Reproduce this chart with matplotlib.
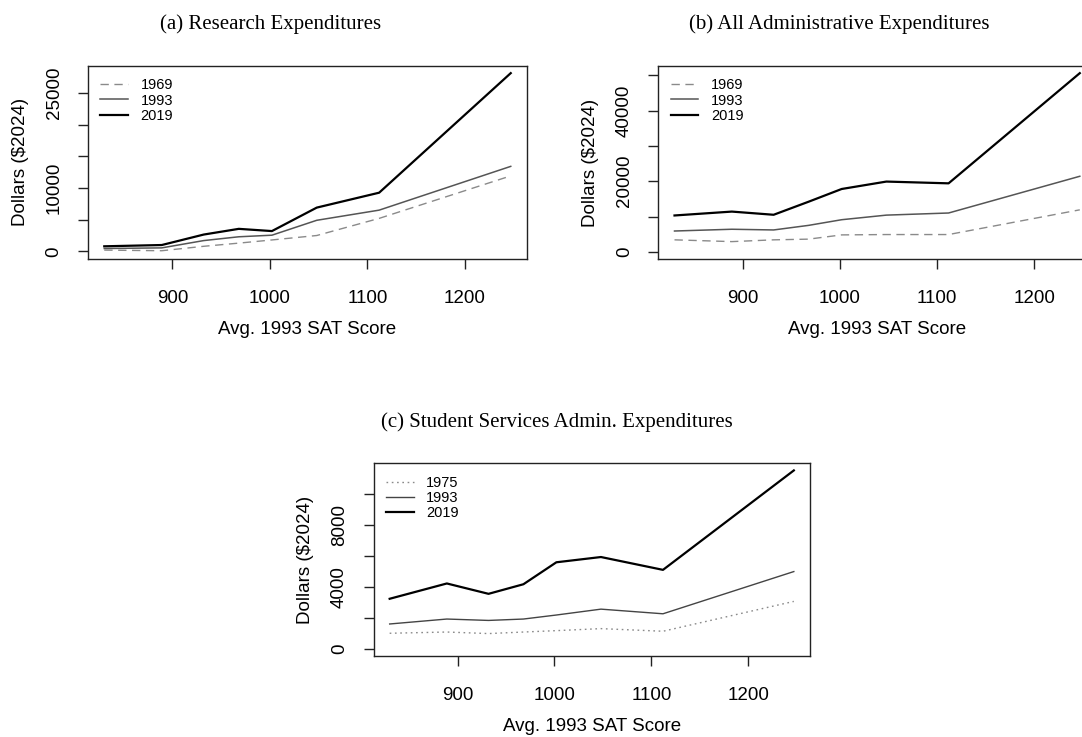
import matplotlib
matplotlib.use('Agg')
import matplotlib.pyplot as plt

# ---------------- data ----------------
sat = [830, 889, 932, 968, 1002, 1048, 1112, 1247]

research_1969 = [200, 100, 800, 1300, 1800, 2500, 5200, 11900]
research_1993 = [450, 550, 1700, 2300, 2550, 4900, 6500, 13400]
research_2019 = [800, 1000, 2650, 3550, 3200, 6900, 9250, 28100]

admin_1969 = [3400, 2900, 3400, 3600, 4800, 4900, 4900, 11900]
admin_1993 = [5900, 6400, 6200, 7500, 9100, 10400, 11000, 21400]
admin_2019 = [10300, 11400, 10500, 14200, 17800, 19900, 19400, 50600]

student_1975 = [990, 1070, 970, 1070, 1160, 1290, 1120, 3050]
student_1993 = [1590, 1910, 1820, 1910, 2170, 2550, 2250, 4980]
student_2019 = [3220, 4210, 3540, 4160, 5580, 5920, 5090, 11520]

xticks = [900, 1000, 1100, 1200]
yticks_a = [0, 5000, 10000, 15000, 20000, 25000]
ylabels_a = ['0', '', '10000', '', '', '25000']
yticks_b = [0, 10000, 20000, 30000, 40000, 50000]
ylabels_b = ['0', '', '20000', '', '40000', '']
yticks_c = [0, 2000, 4000, 6000, 8000, 10000]
ylabels_c = ['0', '', '4000', '', '8000', '']

titles = ['(a) Research Expenditures',
          '(b) All Administrative Expenditures',
          '(c) Student Services Admin. Expenditures']
xlabel = 'Avg. 1993 SAT Score'
ylabel = 'Dollars ($2024)'

# ---------------- layout ----------------
W, H = 1082, 737
fig = plt.figure(figsize=(W / 100, H / 100), dpi=100)
fig.patch.set_facecolor('white')

SANS = 'Liberation Sans'
SERIF = 'Liberation Serif'


def px_axes(left, top, right, bottom):
    return fig.add_axes([left / W, 1 - bottom / H, (right - left) / W, (bottom - top) / H])


def style(ax, yt, yl, w_px, h_px, series):
    # x: R-style 4% expansion; y: range from 0 to the data maximum, expanded 4%
    ax.margins(x=0.04)
    ymax = max(max(s) for s in series)
    ax.set_ylim(-0.04 * ymax, 1.04 * ymax)
    ax.set_xticks(xticks)
    ax.set_xticklabels([str(t) for t in xticks], fontfamily=SANS, fontsize=13.5)
    ax.set_yticks(yt)
    ax.set_yticklabels(yl, fontfamily=SANS, fontsize=13.5, rotation=90, va='center', ha='right')
    ax.tick_params(axis='x', length=7.5, width=1.0, pad=15, color='#222222')
    ax.tick_params(axis='y', length=7.5, width=1.0, pad=10.8, color='#222222')
    for sp in ax.spines.values():
        sp.set_linewidth(1.0)
        sp.set_color('#222222')
    ax.set_xlabel(xlabel, fontfamily=SANS, fontsize=13.5, va='center')
    ax.xaxis.set_label_coords(0.5, -70.5 / h_px)
    ax.set_ylabel(ylabel, fontfamily=SANS, fontsize=13.5, va='center')
    ax.yaxis.set_label_coords(-68.0 / w_px, 0.5)


def add_legend(ax):
    ax.legend(loc='upper left', bbox_to_anchor=(0.0, 1.0), frameon=False,
              prop={'family': SANS, 'size': 10.5}, handlelength=1.9,
              handletextpad=0.85, labelspacing=0.08, borderpad=0.55,
              borderaxespad=0.3)


GRAY_DASH = '#8a8a8a'
GRAY_MID = '#555555'
BLACK = '#000000'

# panel (a)
ax_a = px_axes(88, 66, 527, 258.5)
ax_a.plot(sat, research_1969, color=GRAY_DASH, lw=1.0, dashes=(6, 4), label='1969')
ax_a.plot(sat, research_1993, color=GRAY_MID, lw=1.1, label='1993')
ax_a.plot(sat, research_2019, color=BLACK, lw=1.6, label='2019')
style(ax_a, yticks_a, ylabels_a, 527 - 88, 258.5 - 66,
      [research_1969, research_1993, research_2019])
add_legend(ax_a)

# panel (b) (cut off at the right edge of the picture)
ax_b = px_axes(658.3, 66, 1096, 259)
ax_b.plot(sat, admin_1969, color=GRAY_DASH, lw=1.0, dashes=(6, 4), label='1969')
ax_b.plot(sat, admin_1993, color=GRAY_MID, lw=1.1, label='1993')
ax_b.plot(sat, admin_2019, color=BLACK, lw=1.6, label='2019')
style(ax_b, yticks_b, ylabels_b, 1096 - 658.3, 259 - 66,
      [admin_1969, admin_1993, admin_2019])
add_legend(ax_b)

# panel (c)
ax_c = px_axes(373.5, 463.3, 810, 655.7)
ax_c.plot(sat, student_1975, color=GRAY_DASH, lw=1.0, dashes=(1.2, 2.6), label='1975')
ax_c.plot(sat, student_1993, color='#444444', lw=1.0, label='1993')
ax_c.plot(sat, student_2019, color=BLACK, lw=1.6, label='2019')
style(ax_c, yticks_c, ylabels_c, 810 - 373.5, 655.7 - 463.3,
      [student_1975, student_1993, student_2019])
add_legend(ax_c)

# subfigure captions
fig.text(271 / W, 1 - 29.3 / H, titles[0], family=SERIF, fontsize=15, ha='center', va='baseline')
fig.text(839 / W, 1 - 29.3 / H, titles[1], family=SERIF, fontsize=15, ha='center', va='baseline')
fig.text(556.7 / W, 1 - 426.7 / H, titles[2], family=SERIF, fontsize=15, ha='center', va='baseline')

fig.savefig('out.png', dpi=100, facecolor='white')
